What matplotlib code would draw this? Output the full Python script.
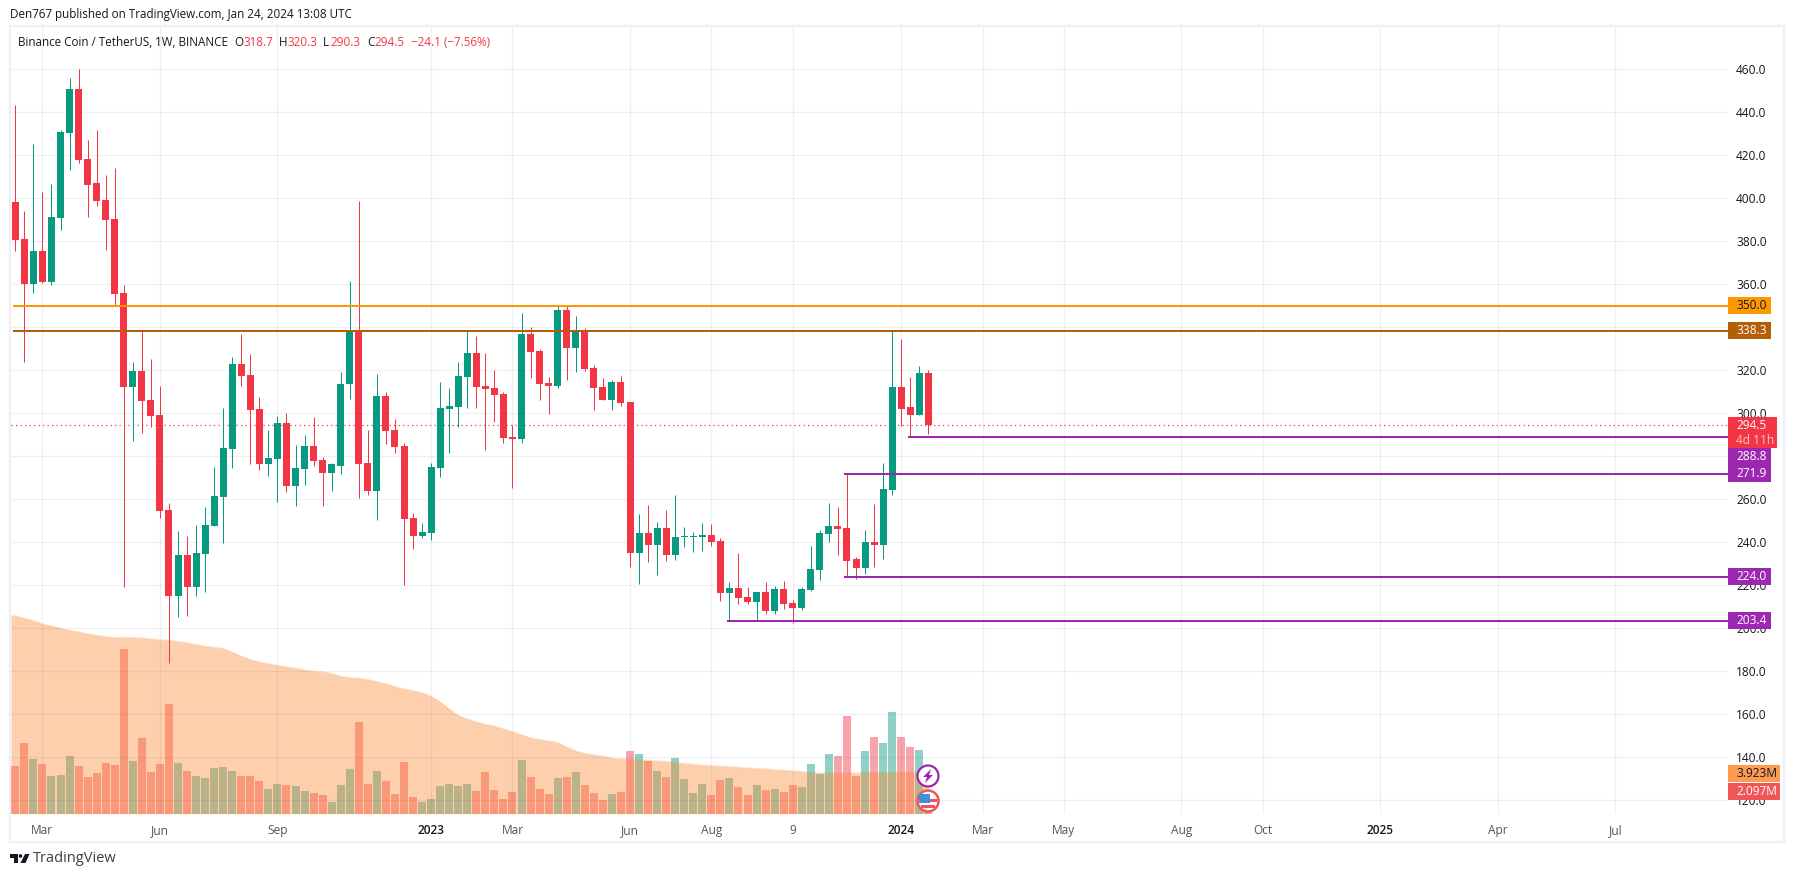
import matplotlib.pyplot as plt
from matplotlib.patches import Circle, Polygon, Rectangle
from matplotlib.transforms import Affine2D

# ----- styles -----

plt.rcParams['font.family'] = ['Open Sans', 'DejaVu Sans']
tick_font_size = 8.6
head_font_size = 8.35
up_color = '#089981'
down_color = '#f23645'
purple = '#9c27b0'
text_color = '#131722'
month_color = '#50535e'

W, H = 1794, 877

# ----- data -----

opens = [398.3, 381.1, 360.2, 375.5, 361.1, 390.9, 430.4, 450.9, 418.3, 407.1, 399.2, 390.4, 356, 312.2, 319.7, 306.2, 299.2,
         255, 215, 234.1, 219.2, 234.6, 247.6, 261.1, 283.4, 322.9, 317.8, 302, 276.4, 278.8, 295.5, 266.2, 274.1, 284.8,
         278.3, 272.2, 275.5, 313.6, 338.4, 276.9, 263.9, 308.1, 292.2, 284.8, 251.3, 242.9, 244.3, 274.6, 302, 302.9,
         316.9, 328.1, 312.7, 311.8, 309, 289, 288.1, 336.9, 329, 314.1, 312.7, 348.1, 330.4, 337.8, 321.1, 312.2, 306.2,
         314.6, 305.3, 235, 244.3, 238.8, 246.7, 234.1, 242.5, 242.5, 242.5, 243.4, 240.6, 216.4, 218.8, 214.6, 212.2,
         216.9, 208.1, 218.3, 211.8, 209.5, 217.8, 227.1, 243.9, 247.6, 246.7, 232.2, 228.1, 240.2, 238.8, 264.3, 312.2,
         302.9, 299.2, 318.7]
highs = [443.4, 394.1, 425.3, 402.9, 406.7, 431.8, 456, 460.2, 427.1, 431.8, 410.9, 414.1, 359.7, 323.9, 338.3, 325.3, 312.7,
         258.3, 245.3, 243, 248.1, 256.4, 275, 302.5, 326.2, 336.9, 327.6, 307.6, 292.2, 298.8, 300.2, 285.3, 289.9, 298.3,
         279.7, 276.9, 319.2, 361.6, 398.8, 292.2, 318.3, 309.9, 297.4, 286.2, 253.6, 249, 276.9, 314.6, 311.8, 323.9,
         338.8, 336, 328.1, 320.2, 309.9, 294.6, 346.7, 340.2, 329.9, 316.9, 350.4, 350.4, 345.3, 339.7, 322.5, 316.4, 315.5,
         317.4, 305.3, 253.2, 257.4, 249.5, 255, 262, 247.1, 244.8, 249, 248.5, 242, 221.6, 235, 219.2, 216.9,
         221.6, 219.7, 222, 213.2, 219.2, 238.3, 245.7, 258.3, 256.4, 272.2, 233.2, 245.7, 257.8, 276.9, 338.3, 334.6,
         316.9, 322, 320.3]
lows = [375.5, 323.9, 356, 360.6, 359.7, 385.3, 413.2, 416.4, 391.3, 396.4, 376, 350, 219.2, 287.1, 290.9, 293.6, 251.3,
        184, 205.3, 205.7, 215, 216.9, 247.6, 239.7, 274.6, 312.7, 276.4, 273.6, 270.9, 258.8, 263.4, 256.9, 266.7, 275.5,
        256.9, 263.9, 271.8, 306.7, 260.6, 262, 250.4, 285.7, 281.6, 220.2, 236.9, 242, 241.1, 270.4, 281.6, 293.6,
        302.5, 302.5, 282.9, 296, 286.2, 265.3, 286.2, 316.4, 306.2, 299.7, 311.8, 315.5, 319.2, 319.7, 301.6, 306.2, 301.6,
        303.4, 228.5, 220.6, 230.9, 224.8, 231.3, 231.8, 237.8, 235.5, 236, 238.3, 212.7, 203.9, 211.3, 211.3, 203.9,
        206.7, 206.7, 209, 202.5, 208.5, 217.4, 222.5, 240.2, 234.1, 224.3, 222.9, 225.3, 228.5, 232.2, 262, 294.1,
        289, 299.2, 290.3]
closes = [380.6, 360.2, 375.5, 361.1, 391.3, 430.9, 450.9, 417.8, 406.2, 398.8, 389.9, 355.5, 312.2, 319.7, 305.7, 298.8, 254.6,
          215, 234.1, 219.2, 235, 248.1, 261.6, 283.9, 322.9, 317.4, 301.6, 276.4, 279.2, 295.5, 266.2, 274.6, 284.8, 277.8,
          272.2, 276.4, 313.6, 338.4, 276.4, 263.9, 308.1, 291.8, 284.3, 250.9, 242.9, 244.8, 275, 302.5, 303.4, 317.4,
          328.1, 312.2, 311.3, 308.5, 288.5, 288.1, 336.9, 328.5, 313.6, 312.7, 348.1, 330.4, 337.8, 320.6, 311.8, 306.2, 314.6,
          304.8, 235, 244.3, 238.8, 246.7, 234.1, 242.5, 242.9, 242.9, 243.4, 240.2, 216.4, 218.8, 214.1, 212.2, 216.9,
          208.1, 218.3, 211.3, 209.5, 218.3, 227.6, 244.3, 247.6, 246.2, 231.3, 228.1, 240.2, 238.8, 264.8, 312.2, 302,
          299.2, 318.8, 294.5]

# volume in millions
volume = [4.53, 6.71, 5.19, 4.72, 3.58, 3.67, 5.47, 4.53, 3.48, 3.86, 4.81, 4.62, 15.63, 5.0, 7.18, 3.96, 4.72, 10.41, 4.81,
          4.05, 3.58, 3.39, 4.34, 4.43, 4.05, 3.58, 3.58, 3.10, 2.34, 2.82, 2.72, 2.63, 2.15, 1.96, 1.77, 1.11, 2.72, 4.24,
          8.70, 2.82, 4.05, 3.10, 1.87, 4.91, 1.58, 1.11, 1.39, 2.63, 2.82, 2.63, 2.82, 2.15, 3.96, 2.25, 1.39, 2.06, 5.09,
          3.48, 2.34, 1.87, 3.39, 3.48, 3.96, 2.72, 1.96, 1.30, 1.87, 2.06, 5.95, 5.66, 5.00, 4.05, 3.48, 5.28, 3.29, 1.96,
          2.82, 1.77, 3.20, 3.39, 2.53, 1.77, 2.72, 2.25, 2.34, 2.06, 2.72, 2.53, 4.72, 3.77, 5.66, 5.47, 9.27, 3.58, 5.95,
          7.28, 6.71, 9.65, 7.28, 6.33, 6.04, 2.09]
volume_ma = [18.77, 18.54, 18.32, 18.0, 17.82, 17.59, 17.41, 17.25, 17.06, 16.93, 16.80, 16.71, 16.74, 16.71, 16.68, 16.58,
             16.49, 16.46, 16.33, 16.2, 16.04, 15.89, 15.79, 15.66, 15.32, 14.94, 14.62, 14.40, 14.21, 14.08, 13.92, 13.80,
             13.64, 13.51, 13.45, 13.29, 13.04, 12.91, 12.85, 12.72, 12.53, 12.31, 12.06, 11.84, 11.65, 11.46, 11.14, 10.60,
             9.91, 9.30, 8.99, 8.70, 8.48, 8.29, 8.04, 7.78, 7.47, 7.18, 7.03, 6.90, 6.74, 6.30, 5.95, 5.70, 5.57, 5.47, 5.25,
             5.19, 5.16, 5.09, 5.06, 5.0, 4.94, 4.84, 4.75, 4.68, 4.59, 4.56, 4.49, 4.46, 4.40, 4.34, 4.27, 4.24, 4.18, 4.11,
             4.05, 3.99, 3.89, 3.86, 3.86, 3.86, 3.86, 3.86, 3.89, 3.89, 3.89, 3.92, 3.92, 3.93, 3.94, 3.923]

price_ticks = list(range(120, 461, 20))
time_ticks = [3, 16, 29, 46, 55, 68, 77, 86, 98, 107, 116, 129, 138, 151, 164, 177]
time_labels = ['Mar', 'Jun', 'Sep', '2023', 'Mar', 'Jun', 'Aug', '9', '2024', 'Mar', 'May', 'Aug', 'Oct', '2025', 'Apr', 'Jul']
year_labels = ['2023', '2024', '2025']

# level, first candle, line colour
levels = [(350.0, 0, '#ff9800'), (338.3, 0, '#b45f06'), (288.8, 99, purple),
          (271.9, 92, purple), (224.0, 92, purple), (203.4, 79, purple)]
last_price = 294.5

# ----- figure -----

fig = plt.figure(figsize=(W / 100, H / 100), dpi=100, facecolor='white')
pix = Affine2D().scale(1, -1).translate(0, H)  # image pixels, y going down

left, right, top, bottom = 11, 1728, 27, 813.7
rect = [left / W, 1 - bottom / H, (right - left) / W, (bottom - top) / H]
x_lo, x_hi = -0.476, 189.46
ax_vol = fig.add_axes(rect, zorder=0)
ax = fig.add_axes(rect, zorder=1)
ax.patch.set_visible(False)

idx = list(range(len(closes)))
up = [c >= o for o, c in zip(opens, closes)]
colors = [up_color if u else down_color for u in up]

# ----- volume pane -----

ax_vol.bar(idx, volume, width=0.885, color=colors, alpha=0.45, linewidth=0, zorder=2)
# the area runs on to the pane edge on the left
ma_x = [x_lo] + idx
ma_y = [volume_ma[0]] + volume_ma
ax_vol.fill_between(ma_x, 0, ma_y, color='#fd8732', alpha=0.4, linewidth=0, zorder=3)
ax_vol.plot(ma_x, ma_y, color='#fd8732', alpha=0.25, lw=1, zorder=3)
ax_vol.set_xlim(x_lo, x_hi)
ax_vol.set_ylim(0, 74.69)
ax_vol.axis('off')

# ----- candles -----

ax.grid(True, color='#26335f', alpha=0.07, lw=0.9, zorder=0)
ax.set_axisbelow(True)
ax.axhline(last_price, color=down_color, lw=0.9, ls=(0, (1, 2.6)), zorder=1)
wicks = ax.vlines(idx, lows, highs, colors=colors, lw=0.72, zorder=2)
wicks.set_snap(True)
ax.bar(idx, [abs(c - o) for o, c in zip(opens, closes)], bottom=[min(o, c) for o, c in zip(opens, closes)],
       width=0.774, color=colors, linewidth=0, zorder=3)
ax.set_xlim(x_lo, x_hi)
ax.set_ylim(113.8, 479.7)

for price, start, col in levels:
    line = ax.hlines(price, start - 0.3, x_hi, colors=col, lw=1.44, zorder=4)
    line.set_snap(True)

ax.set_yticks(price_ticks)
ax.set_yticklabels(['%.1f' % p for p in price_ticks], fontsize=tick_font_size, color=text_color)
ax.yaxis.tick_right()
ax.set_xticks(time_ticks)
ax.set_xticklabels(time_labels, fontsize=tick_font_size, color=month_color)
for lab in ax.get_xticklabels():
    if lab.get_text() in year_labels:
        lab.set_color(text_color)
        lab.set_fontweight('semibold')
ax.tick_params(axis='both', length=0)
ax.tick_params(axis='y', pad=5.8)
ax.tick_params(axis='x', pad=7.5)
for s in ax.spines.values():
    s.set_visible(False)

# ----- frame -----

fig.add_artist(Rectangle((10, 26), 1774, 816, fill=False, ec='#eeeff6', lw=1.6, transform=pix, zorder=1))


def label_box(y0, y1, x1, col):
    fig.add_artist(Rectangle((right, y0), x1 - right, y1 - y0, fc=col, ec='none', transform=pix, zorder=2))


def label(x, y, s, col, **kw):
    kw.setdefault('fontsize', tick_font_size)
    fig.text(x, y, s, color=col, va='center', ha='left', transform=pix, **kw)


# ----- price labels -----

label_box(297.3, 314, 1771, '#ff9800')
label(1736, 305.5, '350.0', text_color)
label_box(322.3, 339, 1771, '#b45f06')
label(1736, 331, '338.3', 'white')
label_box(447.7, 481.7, 1771, purple)
label(1736, 456.5, '288.8', 'white')
label(1736, 473.5, '271.9', 'white')
label_box(417, 447.7, 1777, down_color)
label(1736, 425.5, '294.5', 'white')
label(1736, 440, '4d 11h', '#fcc2c6')
label_box(568, 584.7, 1771, purple)
label(1736, 576.5, '224.0', 'white')
label_box(612, 628.7, 1771, purple)
label(1736, 620.5, '203.4', 'white')
label_box(765, 781.7, 1780, '#ff9a52')
label(1736, 773.5, '3.923M', text_color)
label_box(783, 800, 1780, '#f0555a')
label(1736, 791.5, '2.097M', 'white')

# ----- header texts -----

label(10, 14.6, 'Den767 published on TradingView.com, Jan 24, 2024 13:08 UTC', text_color, fontsize=head_font_size)
label(18, 42, 'Binance Coin / TetherUS, 1W, BINANCE', text_color, fontsize=head_font_size)
for x, letter, x2, val in [(234, 'O', 243, '318.7'), (279, 'H', 287, '320.3'), (323, 'L', 330, '290.3'), (367, 'C', 374, '294.5')]:
    label(x, 42, letter, text_color, fontsize=head_font_size)
    label(x2, 42, val, down_color, fontsize=head_font_size)
label(411, 42, '\u221224.1 (\u22127.56%)', down_color, fontsize=head_font_size)

# ----- icons -----

fig.add_artist(Circle((928, 776), 10.5, fc='white', ec=purple, lw=1.6, transform=pix, zorder=2))
fig.add_artist(Polygon([(931, 769), (923, 777), (927, 777), (925, 783), (933, 775), (929, 775)],
                       fc=purple, ec='none', transform=pix, zorder=2))
fig.add_artist(Circle((928, 801), 10.5, fc='white', ec='#f0555a', lw=1.8, transform=pix, zorder=2))
fig.add_artist(Rectangle((921, 805), 14, 3, fc='#f0555a', ec='none', transform=pix, zorder=2))
fig.add_artist(Rectangle((930, 799), 7, 3, fc='#f0555a', ec='none', transform=pix, zorder=2))
fig.add_artist(Rectangle((919, 794), 11, 9, fc='#3d8fe0', ec='none', transform=pix, zorder=2))

# ----- logo -----

logo = '#131722'
fig.add_artist(Polygon([(10, 854), (18, 854), (18, 863), (14, 863), (14, 857.5), (10, 857.5)], fc=logo, ec='none', transform=pix))
fig.add_artist(Circle((20.5, 856), 1.8, fc=logo, ec='none', transform=pix))
fig.add_artist(Polygon([(25, 854), (29.5, 854), (25.5, 863), (20.5, 863)], fc=logo, ec='none', transform=pix))
label(33, 859, 'TradingView', '#3a3e4a', fontsize=10.5)

fig.savefig('out.png', dpi=100)
